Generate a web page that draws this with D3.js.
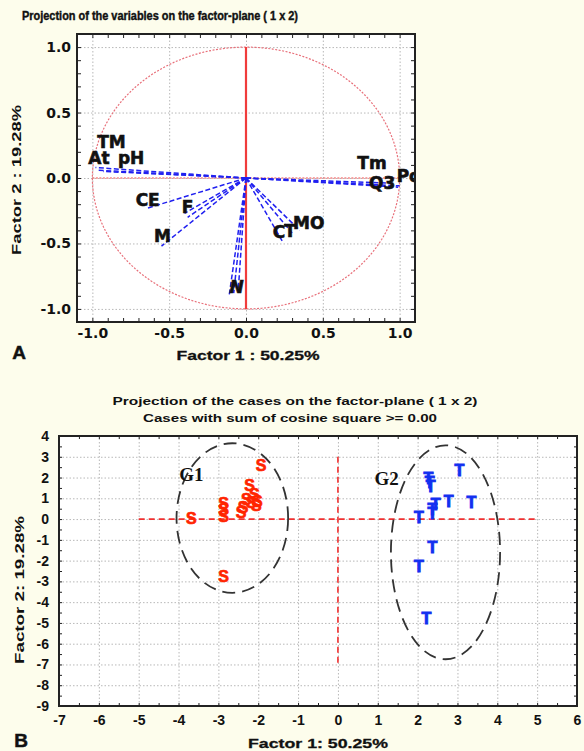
<!DOCTYPE html>
<html><head><meta charset="utf-8">
<script src="https://cdn.jsdelivr.net/npm/d3@7"></script>
<style>body{margin:0;background:#fdfdec}svg{display:block}</style>
</head><body>
<script>
// ---------- DATA ----------
// Panel A: variable loadings
const varNames = ["TM","At","pH","CE","F","M","N","C","T","MO","Tm","Q3","Po"];
const factor1Load = [-0.98,-0.97,-0.93,-0.64,-0.38,-0.55,-0.08,0.24,0.30,0.35,0.95,0.99,1.00];
const factor2Load = [0.08,0.06,0.05,-0.23,-0.30,-0.52,-0.88,-0.49,-0.42,-0.40,-0.04,-0.07,-0.06];
const extraLoadX = [-0.40,-0.11,-0.05];   // unlabeled overlapping vectors
const extraLoadY = [-0.27,-0.90,-0.85];
const tickLabelsA = [-1.0,-0.5,0.0,0.5,1.0];

// Panel B: case scores
const g1Score1 = [-1.93,-3.68,-2.87,-2.87,-2.87,-2.87,-2.22,-2.10,-2.30,-2.02,-2.38,-2.05,-2.43,-2.17];
const g1Score2 = [2.60,0.05,-2.75,0.75,0.45,0.12,1.60,1.20,0.96,0.87,0.58,0.63,0.34,0.82];
const g2Score1 = [3.05,2.27,2.30,2.33,2.78,3.35,2.45,2.37,2.37,2.03,2.37,2.03,2.22];
const g2Score2 = [2.35,1.95,1.75,1.55,0.85,0.82,0.72,0.48,0.26,0.10,-1.35,-2.30,-4.80];
const groupNames = ["G1","G2"];
const groupCx = [-2.65,2.70];
const groupCy = [0.05,-1.60];
const groupRx = [1.40,1.37];
const groupRy = [3.60,5.15];
const groupLabelX = [-3.68,1.22];
const groupLabelY = [2.17,1.93];
const tickLabelsBx = [-7,-6,-5,-4,-3,-2,-1,0,1,2,3,4,5,6];
const tickLabelsBy = [4,3,2,1,0,-1,-2,-3,-4,-5,-6,-7,-8,-9];

// ---------- LAYOUT / STYLE ----------
const labelNudge = { // pixel offsets of variable labels from vector tips
  TM:[16,-26,"middle"], At:[2,-12,"middle"], pH:[28,-13,"middle"], CE:[0,-8,"middle"],
  F:[0,-10,"middle"], M:[1,-10,"middle"], N:[3,-6,"middle"], C:[-4,-10,"middle"],
  T:[-2,-2,"middle"], MO:[9,-7,"middle"], Tm:[-20,-20,"middle"], Q3:[-16,-4,"middle"],
  Po:[-3,-10,"start"]
};
const W = 584, H = 751, BG = "#fdfdec";
const svg = d3.select("body").append("svg").attr("width",W).attr("height",H);
svg.append("rect").attr("width",W).attr("height",H).attr("fill",BG);

function styleGrid(g){
  g.select(".domain").remove();
  g.selectAll("line").attr("stroke","#b8b8b8").attr("stroke-dasharray","1.5,2").attr("stroke-width",1);
}
function styleTicks(g){
  g.select(".domain").remove();
  g.selectAll("line").attr("stroke","#222").attr("stroke-width",1);
}

// ================= PANEL A =================
const A = {left:77,right:415,top:34,bottom:322};
const xA = d3.scaleLinear().domain([-1.1,1.1]).range([A.left,A.right]);
const yA = d3.scaleLinear().domain([-1.1,1.1]).range([A.bottom,A.top]);
const gA = svg.append("g");
gA.append("rect").attr("x",A.left).attr("y",A.top).attr("width",A.right-A.left).attr("height",A.bottom-A.top).attr("fill","#fff");
gA.append("g").attr("transform",`translate(0,${A.bottom})`)
  .call(d3.axisBottom(xA).tickValues(tickLabelsA).tickSize(-(A.bottom-A.top)).tickFormat("")).call(styleGrid);
gA.append("g").attr("transform",`translate(${A.left},0)`)
  .call(d3.axisLeft(yA).tickValues(tickLabelsA).tickSize(-(A.right-A.left)).tickFormat("")).call(styleGrid);
const minorA = d3.range(-11,12).map(d=>d/10);
gA.append("g").attr("transform",`translate(0,${A.bottom})`).call(d3.axisBottom(xA).tickValues(minorA).tickSize(-4).tickFormat("")).call(styleTicks);
gA.append("g").attr("transform",`translate(0,${A.top})`).call(d3.axisTop(xA).tickValues(minorA).tickSize(-4).tickFormat("")).call(styleTicks);
gA.append("g").attr("transform",`translate(${A.left},0)`).call(d3.axisLeft(yA).tickValues(minorA).tickSize(-4).tickFormat("")).call(styleTicks);
gA.append("g").attr("transform",`translate(${A.right},0)`).call(d3.axisRight(yA).tickValues(minorA).tickSize(-4).tickFormat("")).call(styleTicks);

// unit circle
const circ = d3.range(0,361,2).map(a=>[Math.cos(a*Math.PI/180),Math.sin(a*Math.PI/180)]);
gA.append("path").attr("d",d3.line().x(d=>xA(d[0])).y(d=>yA(d[1]))(circ))
  .attr("fill","none").attr("stroke","#e8707a").attr("stroke-width",1.2).attr("stroke-dasharray","2,1.5");
// axes lines
gA.append("line").attr("x1",xA(-1)).attr("x2",xA(1)).attr("y1",yA(0)).attr("y2",yA(0))
  .attr("stroke","#f04848").attr("stroke-width",1).attr("stroke-dasharray","2,1.5");
gA.append("line").attr("x1",xA(0)).attr("x2",xA(0)).attr("y1",yA(1)).attr("y2",yA(-1))
  .attr("stroke","#f03c3c").attr("stroke-width",2.2);
// vectors
const vec = varNames.map((n,i)=>({n,x:factor1Load[i],y:factor2Load[i]}));
const extra = extraLoadX.map((x,i)=>({x,y:extraLoadY[i]}));
gA.selectAll("line.vec").data(vec.concat(extra)).join("line").attr("class","vec")
  .attr("x1",xA(0)).attr("y1",yA(0)).attr("x2",d=>xA(d.x)).attr("y2",d=>yA(d.y))
  .attr("stroke","#2020f0").attr("stroke-width",1.5).attr("stroke-dasharray","5,2.5");
// labels clipped to plot
svg.append("defs").append("clipPath").attr("id","clipA").append("rect")
  .attr("x",A.left).attr("y",A.top).attr("width",A.right-A.left).attr("height",A.bottom-A.top);
gA.append("g").attr("clip-path","url(#clipA)").selectAll("text").data(vec).join("text")
  .attr("x",d=>xA(d.x)+labelNudge[d.n][0]).attr("y",d=>yA(d.y)+labelNudge[d.n][1])
  .attr("text-anchor",d=>labelNudge[d.n][2]).attr("dominant-baseline","central")
  .attr("font-family","DejaVu Sans").attr("font-weight","bold").attr("font-size",17)
  .attr("fill","#111").attr("stroke","#111").attr("stroke-width",0.6)
  .attr("font-style",d=>d.n==="N"?"italic":"normal").text(d=>d.n);
// border
gA.append("rect").attr("x",A.left).attr("y",A.top).attr("width",A.right-A.left).attr("height",A.bottom-A.top)
  .attr("fill","none").attr("stroke","#222").attr("stroke-width",2);
// tick labels
const fmt1 = d=>d.toFixed(1);
gA.append("g").attr("transform",`translate(0,${A.bottom})`)
  .call(d3.axisBottom(xA).tickValues(tickLabelsA).tickSize(0).tickPadding(6).tickFormat(fmt1))
  .call(g=>g.select(".domain").remove())
  .selectAll("text").attr("font-family","DejaVu Sans").attr("font-weight","bold").attr("font-size",14).attr("fill","#111");
gA.append("g").attr("transform",`translate(${A.left},0)`)
  .call(d3.axisLeft(yA).tickValues(tickLabelsA).tickSize(0).tickPadding(6).tickFormat(fmt1))
  .call(g=>g.select(".domain").remove())
  .selectAll("text").attr("font-family","DejaVu Sans").attr("font-weight","bold").attr("font-size",14).attr("fill","#111");
// titles
function txt(x,y,s,size,opts={}){
  const t = svg.append("text").attr("x",x).attr("y",y).text(s)
    .attr("font-family",opts.family||"Liberation Sans").attr("font-weight","bold").attr("font-size",size)
    .attr("fill",opts.fill||"#111").attr("text-anchor",opts.anchor||"middle").attr("dominant-baseline","central");
  if(opts.len) t.attr("textLength",opts.len).attr("lengthAdjust","spacingAndGlyphs");
  if(opts.rot) t.attr("transform",`rotate(-90,${x},${y})`);
  if(opts.heavy) t.attr("stroke","#111").attr("stroke-width",opts.heavy);
  return t;
}
txt(22,16,"Projection of the variables on the factor-plane ( 1 x  2)",12,{anchor:"start",len:276,heavy:0.4});
txt(248,355,"Factor 1 : 50.25%",13,{len:143,heavy:0.3});
txt(17,180,"Factor 2 : 19.28%",12,{len:150,rot:true});
txt(19,352,"A",19,{heavy:0.5});

// ================= PANEL B =================
const B = {left:59,right:577,top:436,bottom:706};
const xB = d3.scaleLinear().domain([-7,6]).range([B.left,B.right]);
const yB = d3.scaleLinear().domain([-9,4]).range([B.bottom,B.top]);
const gB = svg.append("g");
gB.append("rect").attr("x",B.left).attr("y",B.top).attr("width",B.right-B.left).attr("height",B.bottom-B.top).attr("fill","#fff");
gB.append("g").attr("transform",`translate(0,${B.bottom})`)
  .call(d3.axisBottom(xB).tickValues(tickLabelsBx).tickSize(-(B.bottom-B.top)).tickFormat("")).call(styleGrid);
gB.append("g").attr("transform",`translate(${B.left},0)`)
  .call(d3.axisLeft(yB).tickValues(tickLabelsBy).tickSize(-(B.right-B.left)).tickFormat("")).call(styleGrid);
const minorBx = d3.range(-14,13).map(d=>d/2), minorBy = d3.range(-18,9).map(d=>d/2);
gB.append("g").attr("transform",`translate(0,${B.bottom})`).call(d3.axisBottom(xB).tickValues(minorBx).tickSize(-3).tickFormat("")).call(styleTicks);
gB.append("g").attr("transform",`translate(0,${B.top})`).call(d3.axisTop(xB).tickValues(minorBx).tickSize(-3).tickFormat("")).call(styleTicks);
gB.append("g").attr("transform",`translate(${B.left},0)`).call(d3.axisLeft(yB).tickValues(minorBy).tickSize(-3).tickFormat("")).call(styleTicks);
gB.append("g").attr("transform",`translate(${B.right},0)`).call(d3.axisRight(yB).tickValues(minorBy).tickSize(-3).tickFormat("")).call(styleTicks);
// red reference lines
gB.append("line").attr("x1",xB(-5)).attr("x2",xB(5)).attr("y1",yB(0)).attr("y2",yB(0))
  .attr("stroke","#f03030").attr("stroke-width",1.6).attr("stroke-dasharray","6,4");
gB.append("line").attr("x1",xB(0)).attr("x2",xB(0)).attr("y1",yB(3)).attr("y2",yB(-7))
  .attr("stroke","#f03030").attr("stroke-width",1.6).attr("stroke-dasharray","6,4");
// group ellipses
const grp = groupNames.map((n,i)=>({n,cx:groupCx[i],cy:groupCy[i],rx:groupRx[i],ry:groupRy[i],lx:groupLabelX[i],ly:groupLabelY[i]}));
gB.selectAll("ellipse").data(grp).join("ellipse")
  .attr("cx",d=>xB(d.cx)).attr("cy",d=>yB(d.cy))
  .attr("rx",d=>xB(d.cx+d.rx)-xB(d.cx)).attr("ry",d=>yB(d.cy)-yB(d.cy+d.ry))
  .attr("fill","none").attr("stroke","#333").attr("stroke-width",1.8).attr("stroke-dasharray","13,7");
gB.selectAll("text.grp").data(grp).join("text").attr("class","grp")
  .attr("x",d=>xB(d.lx)).attr("y",d=>yB(d.ly)).attr("text-anchor","middle").attr("dominant-baseline","central")
  .attr("font-family","Liberation Serif").attr("font-weight","bold").attr("font-size",19).attr("fill","#111").text(d=>d.n);
// case markers
const g1 = g1Score1.map((x,i)=>({x,y:g1Score2[i]}));
const g2 = g2Score1.map((x,i)=>({x,y:g2Score2[i]}));
gB.selectAll("text.s").data(g1).join("text").attr("class","s")
  .attr("x",d=>xB(d.x)).attr("y",d=>yB(d.y)).attr("text-anchor","middle").attr("dominant-baseline","central")
  .attr("font-family","Liberation Sans").attr("font-weight","bold").attr("font-size",16)
  .attr("fill","#ff2400").attr("stroke","#ff2400").attr("stroke-width",0.7).text("S");
gB.selectAll("text.t").data(g2).join("text").attr("class","t")
  .attr("x",d=>xB(d.x)).attr("y",d=>yB(d.y)).attr("text-anchor","middle").attr("dominant-baseline","central")
  .attr("font-family","Liberation Sans").attr("font-weight","bold").attr("font-size",16)
  .attr("fill","#1230f0").attr("stroke","#1230f0").attr("stroke-width",1).text("T");
gB.append("rect").attr("x",B.left).attr("y",B.top).attr("width",B.right-B.left).attr("height",B.bottom-B.top)
  .attr("fill","none").attr("stroke","#222").attr("stroke-width",2);
gB.append("g").attr("transform",`translate(0,${B.bottom})`)
  .call(d3.axisBottom(xB).tickValues(tickLabelsBx).tickSize(0).tickPadding(9).tickFormat(d=>String(d)))
  .call(g=>g.select(".domain").remove())
  .selectAll("text").attr("font-family","Liberation Sans").attr("font-weight","bold").attr("font-size",14).attr("fill","#111");
gB.append("g").attr("transform",`translate(${B.left},0)`)
  .call(d3.axisLeft(yB).tickValues(tickLabelsBy).tickSize(0).tickPadding(10).tickFormat(d=>String(d)))
  .call(g=>g.select(".domain").remove())
  .selectAll("text").attr("font-family","Liberation Sans").attr("font-weight","bold").attr("font-size",14).attr("fill","#111");
txt(295,401,"Projection of the cases on the factor-plane ( 1 x  2)",11.5,{len:365});
txt(290,418,"Cases with sum of cosine square >= 0.00",11.5,{len:294});
txt(318,743,"Factor 1: 50.25%",13,{len:140,heavy:0.3});
txt(20,590,"Factor 2: 19.28%",12,{len:148,rot:true});
txt(21,740,"B",19,{heavy:0.5});
</script>
</body></html>
